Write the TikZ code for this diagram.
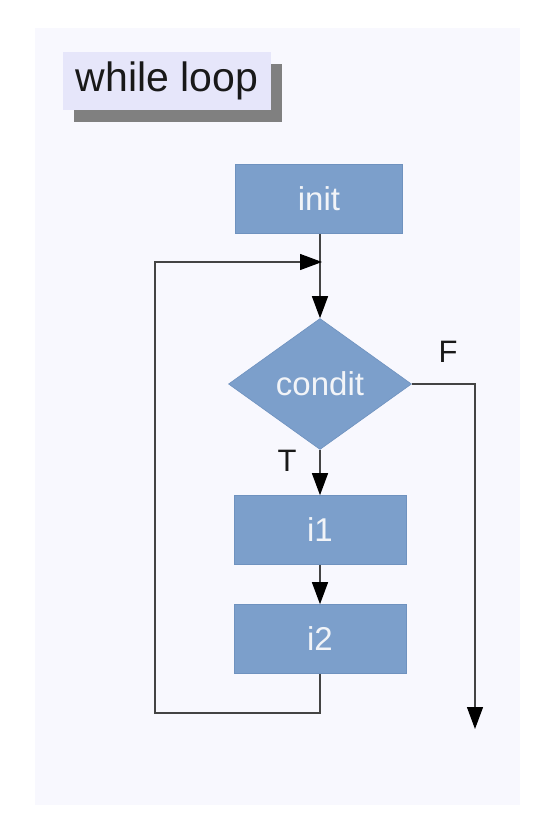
\documentclass[tikz,border=0pt]{standalone}
\usepackage{fontspec}
\setmainfont{Liberation Sans}
\usetikzlibrary{shapes.geometric,arrows.meta,shadows}
\definecolor{panel}{HTML}{F8F8FE}
\definecolor{titlefill}{HTML}{E6E6FA}
\definecolor{shadowgray}{HTML}{808080}
\definecolor{boxfill}{HTML}{7C9FCB}
\definecolor{boxedge}{HTML}{6F92BF}
\definecolor{boxtext}{HTML}{F2F4F8}
\definecolor{linec}{HTML}{444444}
\begin{document}
\begin{tikzpicture}[x=1pt,y=-1pt,
  stepbox/.style={draw=boxedge, line width=0.6pt, fill=boxfill, text=boxtext,
    minimum width=172pt, minimum height=69pt, inner sep=0pt,
    font=\fontsize{33}{40}\selectfont},
  decision/.style={diamond, draw=boxedge, line width=0.6pt, fill=boxfill, text=boxtext,
    minimum width=183pt, minimum height=131pt, inner sep=0pt,
    font=\fontsize{33}{40}\selectfont},
  titlebox/.style={fill=titlefill, minimum width=208pt, minimum height=58pt,
    inner sep=0pt, font=\fontsize{41}{48}\selectfont, text=black!90,
    drop shadow={shadow xshift=11pt, shadow yshift=-12pt, fill=shadowgray, opacity=1}},
  conn/.style={draw=linec, line width=1.3pt, -{Triangle[width=16pt,length=22pt,black]}},
  plain/.style={draw=linec, line width=1.3pt},
  lbl/.style={font=\fontsize{31}{36}\selectfont, text=black!90, inner sep=0pt}
]
\useasboundingbox (0,0) rectangle (542,822);
\fill[white] (0,0) rectangle (542,822);
\fill[panel] (35,28) rectangle (520,805);

\node[titlebox] (title) at (167,81) {while loop};

\node[stepbox, minimum width=167pt] (init) at (319,199) {init};
\node[decision] (cond) at (320,384) {condit};
\node[stepbox] (i1) at (320,530) {i1};
\node[stepbox] (i2) at (320,639) {i2};

\coordinate (merge) at (322,262);
\coordinate (lb) at (155,713);
\coordinate (fend) at (475,729);

\draw[conn] (init.south -| cond.north) -- (cond.north);
\draw[conn] (cond.south) -- (i1.north);
\draw[conn] (i1.south) -- (i2.north);
\draw[conn] (i2.south) |- (lb) |- (merge);
\draw[conn] (cond.east) -| (fend);

\node[lbl] (F) at (448,352) {F};
\node[lbl] (T) at (287,461) {T};
\end{tikzpicture}
\end{document}
